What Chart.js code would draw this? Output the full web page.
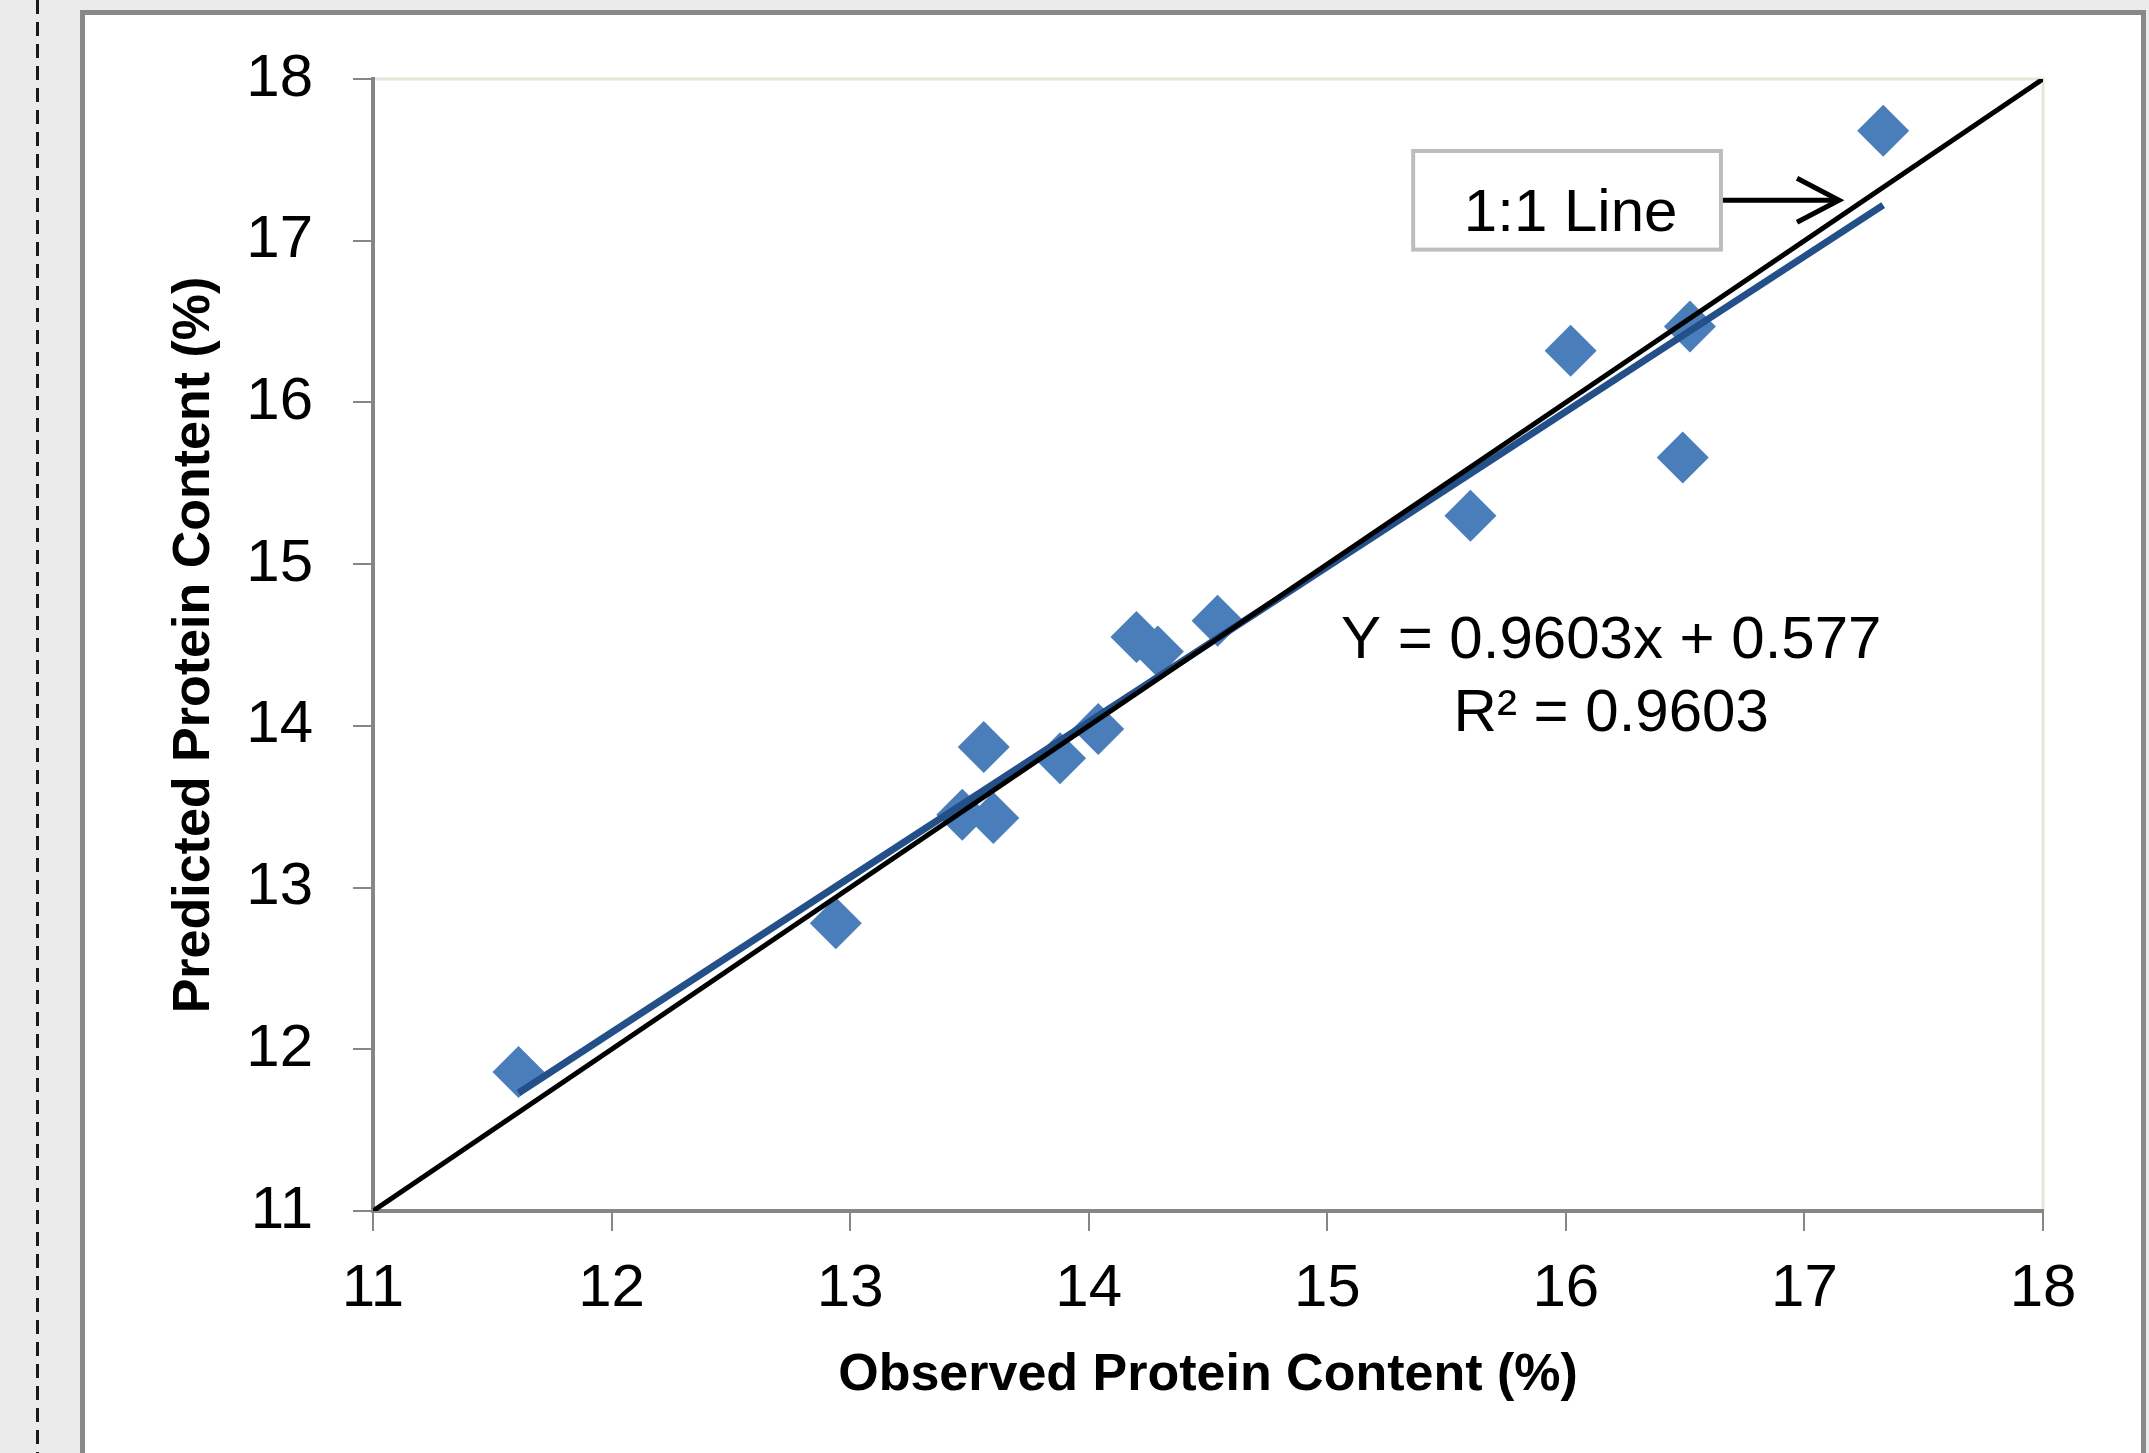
<!DOCTYPE html>
<html><head><meta charset="utf-8">
<script src="https://cdn.jsdelivr.net/npm/chart.js@4.4.1/dist/chart.umd.min.js"></script>
<style>html,body{margin:0;padding:0;background:#ebebeb;overflow:hidden}canvas{display:block}</style>
</head><body>
<canvas id="c" width="2149" height="1453"></canvas>
<script>
// ---- data ----
const observed  = [11.61, 12.94, 13.47, 13.56, 13.60, 13.88, 14.04, 14.20, 14.29, 14.54, 15.60, 16.02, 16.49, 16.52, 17.33];
const predicted = [11.86, 12.78, 13.45, 13.87, 13.43, 13.80, 13.98, 14.55, 14.46, 14.65, 15.30, 16.32, 15.66, 16.47, 17.68];
const trendObserved  = [11.61, 17.33];
const trendPredicted = [11.73, 17.22];
const oneToOneObserved  = [11, 18];
const oneToOnePredicted = [11, 18];
const axisTicks = [11, 12, 13, 14, 15, 16, 17, 18];
const xTitle = 'Observed Protein Content (%)';
const yTitle = 'Predicted Protein Content (%)';
const equationLines = ['Y = 0.9603x + 0.577', 'R\u00B2 = 0.9603'];
const calloutLabel = '1:1 Line';

const FONT = "'Liberation Sans', Arial, sans-serif";
const pts = (xs, ys) => xs.map((x, i) => ({x, y: ys[i]}));

const frame = {
  id: 'frame',
  beforeDraw(chart) {
    const ctx = chart.ctx, W = chart.width, H = chart.height;
    ctx.save();
    ctx.fillStyle = '#ebebeb'; ctx.fillRect(0, 0, W, H);
    ctx.strokeStyle = '#1a1a1a'; ctx.lineWidth = 3; ctx.setLineDash([14, 8]);
    ctx.beginPath(); ctx.moveTo(37.5, 0); ctx.lineTo(37.5, H); ctx.stroke();
    ctx.setLineDash([]);
    ctx.fillStyle = '#ffffff'; ctx.fillRect(82, 12, 2062, H);
    ctx.strokeStyle = '#898989'; ctx.lineWidth = 5;
    ctx.strokeRect(82.5, 12.5, 2061, H + 20);
    const a = chart.chartArea;
    ctx.strokeStyle = '#e8e4d8'; ctx.lineWidth = 3;
    ctx.beginPath(); ctx.moveTo(a.left, a.top); ctx.lineTo(a.right, a.top); ctx.lineTo(a.right, a.bottom); ctx.stroke();
    ctx.restore();
  },
  afterDraw(chart) {
    const ctx = chart.ctx, sx = chart.scales.x, sy = chart.scales.y;
    ctx.save();
    // regression equation
    ctx.fillStyle = '#000'; ctx.font = '60px ' + FONT;
    ctx.textAlign = 'center'; ctx.textBaseline = 'middle';
    const ex = sx.getPixelForValue(16.19);
    ctx.fillText(equationLines[0], ex, sy.getPixelForValue(14.52));
    ctx.fillText(equationLines[1], ex, sy.getPixelForValue(14.07));
    // callout box
    const bx0 = sx.getPixelForValue(15.36), bx1 = sx.getPixelForValue(16.65);
    const by0 = sy.getPixelForValue(17.555), by1 = sy.getPixelForValue(16.945);
    ctx.fillStyle = '#fff'; ctx.fillRect(bx0, by0, bx1 - bx0, by1 - by0);
    ctx.strokeStyle = '#bdbdbd'; ctx.lineWidth = 4;
    ctx.strokeRect(bx0, by0, bx1 - bx0, by1 - by0);
    ctx.fillStyle = '#000';
    ctx.fillText(calloutLabel, sx.getPixelForValue(16.02), sy.getPixelForValue(17.16));
    // arrow
    const ay = sy.getPixelForValue(17.25), ax1 = sx.getPixelForValue(17.145);
    ctx.strokeStyle = '#000'; ctx.lineWidth = 5; ctx.lineCap = 'butt';
    ctx.beginPath(); ctx.moveTo(bx1 + 2, ay); ctx.lineTo(ax1, ay); ctx.stroke();
    ctx.beginPath(); ctx.moveTo(ax1 - 42, ay - 22); ctx.lineTo(ax1, ay); ctx.lineTo(ax1 - 42, ay + 22); ctx.stroke();
    ctx.restore();
  }
};

const axisCommon = (title, isX) => ({
  type: 'linear', min: 11, max: 18,
  afterBuildTicks: s => { s.ticks = axisTicks.map(v => ({value: v})); },
  afterFit: s => { if (isX) s.height = 242; else s.width = 373; },
  grid: { display: true, drawOnChartArea: false, drawTicks: true, tickLength: 20, color: '#868686', lineWidth: 2 },
  border: { display: true, color: '#868686', width: 4 },
  ticks: { color: '#000', font: { family: FONT, size: 60 }, padding: isX ? 22 : 40, autoSkip: false, maxRotation: 0 },
  title: { display: true, text: title, color: '#000', font: { family: FONT, size: 52, weight: 'bold', lineHeight: 1.2 },
           padding: isX ? { top: 0, bottom: 46 } : { top: 163, bottom: 0 } }
});

new Chart(document.getElementById('c'), {
  type: 'scatter',
  data: {
    datasets: [
      { label: '1:1', type: 'line', data: pts(oneToOneObserved, oneToOnePredicted), borderColor: '#000', borderWidth: 5, pointRadius: 0, fill: false, order: 1 },
      { label: 'trend', type: 'line', data: pts(trendObserved, trendPredicted), borderColor: '#245089', borderWidth: 7, pointRadius: 0, fill: false, order: 2 },
      { label: 'data', data: pts(observed, predicted), pointStyle: 'rectRot', pointRadius: 26, pointBorderWidth: 0, backgroundColor: '#4a7ebb', borderColor: '#4a7ebb', order: 3 }
    ]
  },
  options: {
    responsive: false, animation: false, devicePixelRatio: 1,
    layout: { padding: { left: 0, top: 79, right: 106, bottom: 0 } },
    plugins: { legend: { display: false }, tooltip: { enabled: false } },
    scales: { x: axisCommon(xTitle, true), y: axisCommon(yTitle, false) }
  },
  plugins: [frame]
});
</script>
</body></html>
